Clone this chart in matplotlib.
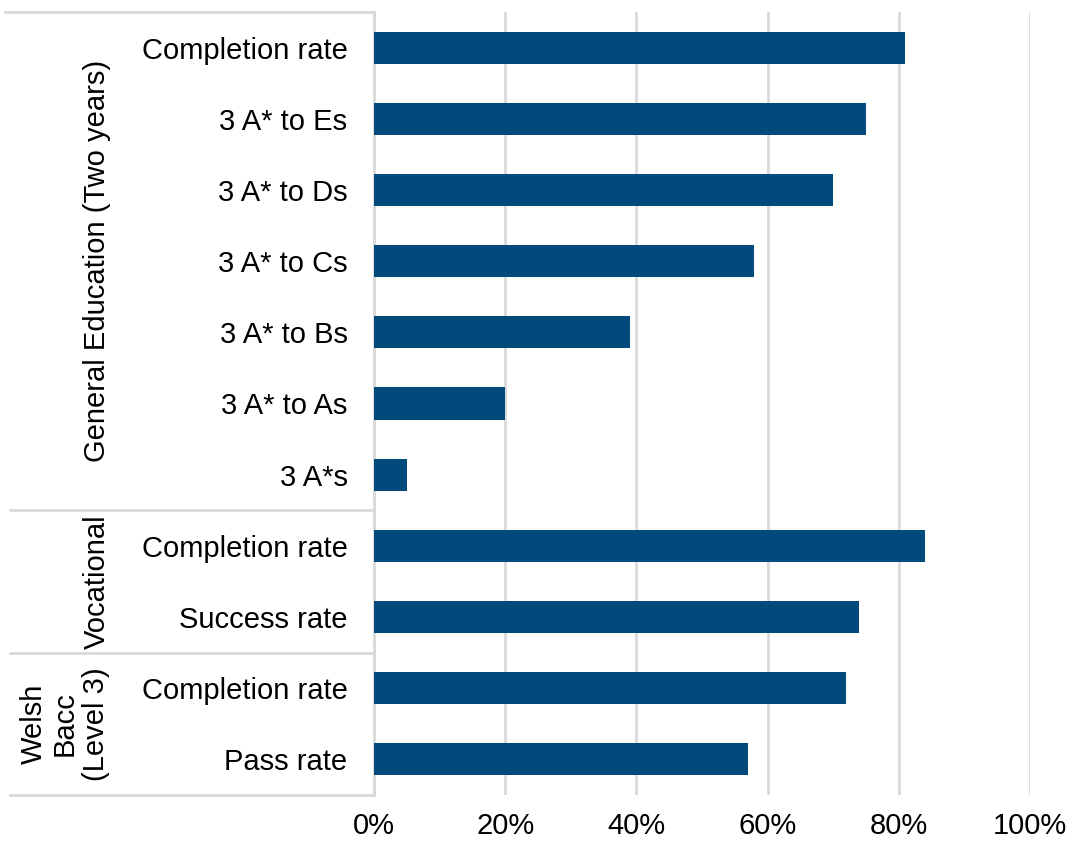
import matplotlib
matplotlib.use("Agg")
import matplotlib.pyplot as plt
import matplotlib.transforms as mtransforms
from matplotlib.ticker import PercentFormatter

plt.rcParams['font.family'] = ['Liberation Sans', 'DejaVu Sans']

# rows, top to bottom
labels = ["Completion rate", "3 A* to Es", "3 A* to Ds", "3 A* to Cs",
          "3 A* to Bs", "3 A* to As", "3 A*s",
          "Completion rate", "Success rate",
          "Completion rate", "Pass rate"]
values = [81, 75, 70, 58, 39, 20, 5,
          84, 74,
          72, 57]
groups = ["General Education (Two years)", "Vocational", "Welsh\nBacc\n(Level 3)"]
group_sizes = [7, 2, 2]

bar_color = "#034a7c"
line_color = "#d9d9d9"

fig = plt.figure(figsize=(10.67, 8.41), dpi=100)
ax = fig.add_axes([374 / 1067, 1 - 795 / 841, (1030 - 374) / 1067, (795 - 12) / 841])

ypos = list(range(len(labels)))
ax.barh(ypos, values, height=0.45, color=bar_color, zorder=3)
ax.set_ylim(len(labels) - 0.5, -0.5)
ax.set_xlim(0, 100)
ax.set_xticks([0, 20, 40, 60, 80, 100])
ax.xaxis.set_major_formatter(PercentFormatter(decimals=0))
ax.set_yticks(ypos)
ax.set_yticklabels(labels)
ax.tick_params(axis='y', length=0, pad=19, labelsize=21, colors="#000000")
ax.tick_params(axis='x', length=0, pad=12, labelsize=21)
ax.grid(axis='x', color=line_color, linewidth=2, zorder=0)
for s in ["top", "right", "bottom"]:
    ax.spines[s].set_visible(False)
ax.spines["left"].set_color(line_color)
ax.spines["left"].set_linewidth(2)

# group dividers and labels on the left
trans = mtransforms.blended_transform_factory(fig.transFigure, ax.transData)
ax.plot([5 / 1067, 374 / 1067], [-0.5, -0.5], transform=trans, color=line_color,
        lw=2, clip_on=False)
start = -0.5
for name, n in zip(groups, group_sizes):
    end = start + n
    ax.plot([10 / 1067, 374 / 1067], [end, end], transform=trans, color=line_color,
            lw=2, clip_on=False)
    xc = 97 / 1067 if "\n" not in name else 65 / 1067
    ax.text(xc, (start + end) / 2, name, transform=trans, rotation=90,
            ha="center", va="center", fontsize=21, linespacing=1.12,
            multialignment="center")
    start = end

fig.savefig("out.png", dpi=100)
